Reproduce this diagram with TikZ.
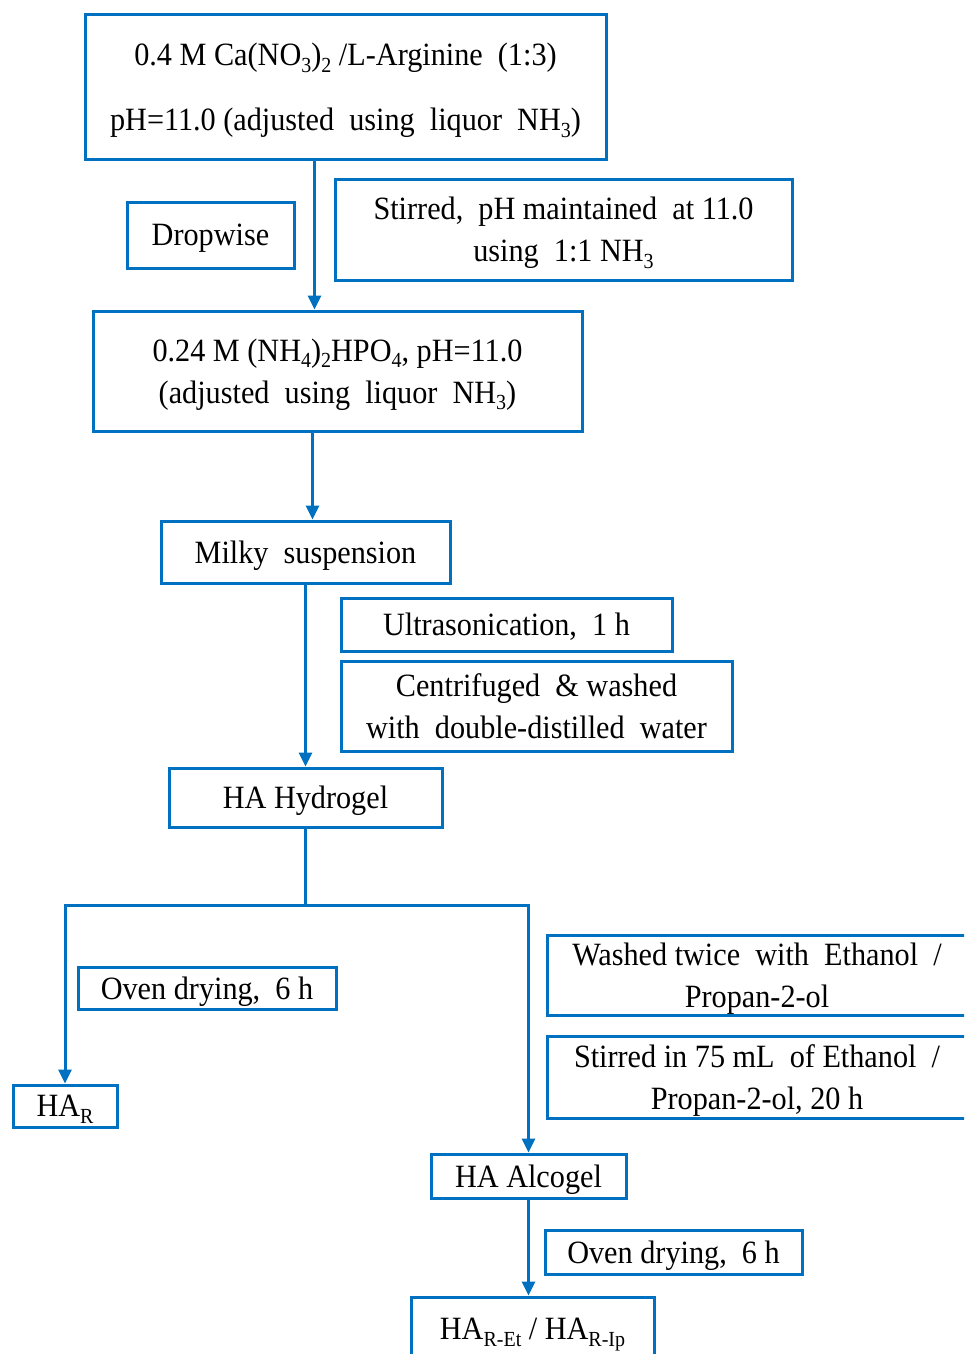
\documentclass[tikz,border=0pt]{standalone}
\usepackage{fontspec}
\setmainfont{Liberation Serif}[FakeStretch=0.93]
\usetikzlibrary{arrows.meta}
\definecolor{bl}{RGB}{0,112,192}
\newcommand{\lsub}[1]{\raisebox{-0.2em}{\fontsize{21.5}{21.5}\selectfont #1}}
\begin{document}
\begin{tikzpicture}[x=1pt,y=-1pt,
  box/.style={draw=bl, line width=3pt, inner sep=0pt, align=center, text depth=0pt,
              font=\fontsize{32.5}{42}\selectfont},
  arr/.style={draw=bl, line width=3pt, -{Triangle[width=13pt,length=14pt]}},
  ln/.style={draw=bl, line width=3pt}]
\useasboundingbox (0,0) rectangle (964,1354);
\clip (0,0) rectangle (964,1354);

\node[box, minimum width=521pt, minimum height=144pt,
      font=\fontsize{32.5}{65}\selectfont] (top) at (345.5,87)
  {0.4 M Ca(NO\lsub{3})\lsub{2} /L-Arginine~ (1:3)\\
   pH=11.0 (adjusted~ using~ liquor~ NH\lsub{3})};
\node[box, minimum width=167pt, minimum height=66pt] (drop) at (210.5,235) {Dropwise};
\node[box, minimum width=457pt, minimum height=101pt] (stir) at (563.5,229.5)
  {Stirred,~ pH maintained~ at 11.0\\ using~ 1:1 NH\lsub{3}};
\node[box, minimum width=489pt, minimum height=120pt] (nh) at (337.5,371)
  {0.24 M (NH\lsub{4})\lsub{2}HPO\lsub{4}, pH=11.0\\ (adjusted~ using~ liquor~ NH\lsub{3})};
\node[box, minimum width=289pt, minimum height=62pt] (milky) at (305.5,552) {Milky~ suspension};
\node[box, minimum width=331pt, minimum height=53pt] (ultra) at (506.5,624.5) {Ultrasonication,~ 1 h};
\node[box, minimum width=391pt, minimum height=90pt] (cent) at (536.5,706)
  {Centrifuged~ \& washed\\ with~ double-distilled~ water};
\node[box, minimum width=273pt, minimum height=59pt] (hydro) at (305.5,797.5) {HA Hydrogel};
\node[box, minimum width=258pt, minimum height=42pt] (oven1) at (207,988) {Oven drying,~ 6 h};
\node[box, minimum width=104pt, minimum height=42pt] (har) at (65,1106) {HA\lsub{R}};
\node[box, minimum width=420pt, minimum height=80pt] (wash) at (757,975)
  {Washed twice~ with~ Ethanol~ /\\ Propan-2-ol};
\node[box, minimum width=420pt, minimum height=82pt] (stir2) at (757,1077)
  {Stirred in 75 mL~ of Ethanol~ /\\ Propan-2-ol, 20 h};
\node[box, minimum width=195pt, minimum height=44pt] (alc) at (528.5,1176) {HA Alcogel};
\node[box, minimum width=257pt, minimum height=44pt] (oven2) at (673.5,1252) {Oven drying,~ 6 h};
\node[box, minimum width=243pt, minimum height=64pt] (fin) at (532.5,1329)
  {HA\lsub{R-Et} / HA\lsub{R-Ip}};

\coordinate (sp) at (305.5,905);

\draw[arr] ([xshift=-31pt]top.south) -- ([xshift=-31pt]top.south |- nh.north);
\draw[arr] ([xshift=-25pt]nh.south) -- ([xshift=-25pt]nh.south |- milky.north);
\draw[arr] (milky.south) -- (hydro.north);
\draw[ln] (hydro.south) -- (sp);
\draw[arr] (sp) -| (har.north);
\draw[arr] (sp) -| (alc.north);
\draw[arr] (alc.south) -- (alc.south |- fin.north);
\end{tikzpicture}
\end{document}
